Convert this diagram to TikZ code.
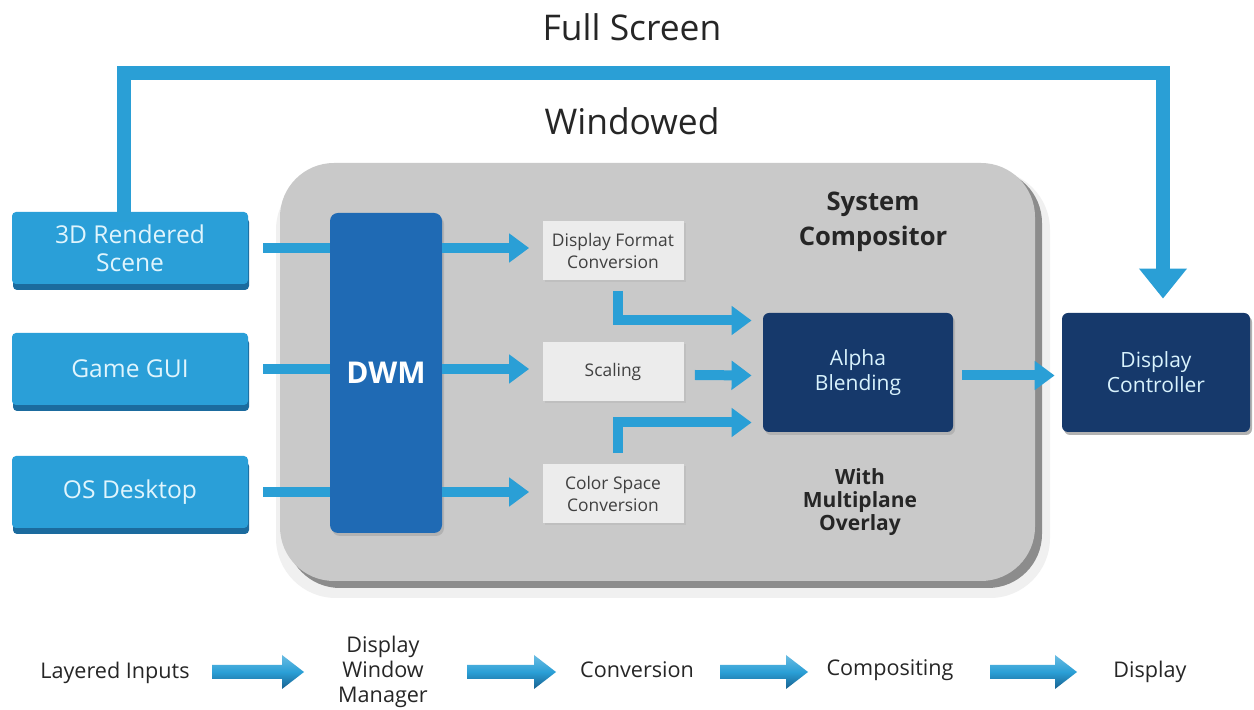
\documentclass[tikz,border=0pt]{standalone}
\usepackage{fontspec}
\setmainfont{Open Sans}
\usetikzlibrary{arrows.meta,shadows,calc}

\definecolor{inblue}{HTML}{2A9FD8}
\definecolor{inshade}{HTML}{1B6B9E}
\definecolor{flow}{HTML}{2A9FD6}
\definecolor{dwmblue}{HTML}{1F6AB4}
\definecolor{navy}{HTML}{16396B}
\definecolor{panel}{HTML}{C9C9C9}
\definecolor{panelrim}{HTML}{8C8C8C}
\definecolor{convbox}{HTML}{ECECEC}

\newcommand{\fatarrow}[2]{%
  \path[fatfill] ($(#1)+(0,-7)$) -- ($(#2)+(-22,-7)$) -- ($(#2)+(-22,-17)$) --
    (#2) -- ($(#2)+(-22,17)$) -- ($(#2)+(-22,7)$) -- ($(#1)+(0,7)$) -- cycle;}

\begin{document}
\begin{tikzpicture}[x=0.5pt,y=-0.5pt,
  inbox/.style={rectangle, rounded corners=2pt, fill=inblue, text=white!88!cyan,
    minimum width=118pt, minimum height=36pt, align=center,
    font=\fontsize{12.3}{14}\selectfont,
    general shadow={fill=inshade, shadow yshift=-3pt, shadow xshift=0.5pt}},
  convstyle/.style={rectangle, fill=convbox, text=black!75, minimum width=70.5pt,
    minimum height=29.5pt, align=center, font=\fontsize{8.7}{11}\selectfont,
    general shadow={fill=black!25, shadow yshift=-1pt, shadow xshift=1pt}},
  darkbox/.style={rectangle, rounded corners=3pt, fill=navy, text=white!85!cyan,
    minimum width=95pt, minimum height=59.5pt, align=center,
    font=\fontsize{10.5}{12.5}\selectfont,
    general shadow={fill=black!30, shadow yshift=-1.5pt, shadow xshift=1pt}},
  flowline/.style={draw=flow, line width=5pt, line join=miter},
  flowarrow/.style={flowline, -{Triangle[length=10pt,width=14pt]}},
  heading/.style={text=black!85, font=\fontsize{17.7}{20}\selectfont},
  boldlabel/.style={text=black!85, align=center, font=\bfseries\fontsize{12.8}{17.5}\selectfont},
  steplabel/.style={text=black!85, align=center, font=\fontsize{10.8}{12.5}\selectfont},
  fatfill/.style={top color=flow!70!white, bottom color=inshade!90!black, middle color=flow}
]
\useasboundingbox (0,0) rectangle (1254,710);
\fill[white] (0,0) rectangle (1254,710);

% titles of the two paths
\node[heading] (full) at (632,27) {Full Screen};
\node[heading] (windowed) at (632,121) {Windowed};

% compositor panel with its darker rim
\fill[black!6, rounded corners=30pt] (276,170) rectangle (1050,598);
\fill[panelrim, rounded corners=27pt] (286,169) rectangle (1042,588);
\fill[panel, rounded corners=27pt] (280,163) rectangle (1035,581);
\node[boldlabel] (sysc) at (873,222) {System\\Compositor};
\node[boldlabel, font=\bfseries\fontsize{10.5}{11.5}\selectfont] (mpo) at (860,502) {With\\Multiplane\\Overlay};

% layered inputs
\node[inbox] (r3d) at (130,248) {3D Rendered\\Scene};
\node[inbox] (gui) at (130,369) {Game GUI};
\node[inbox] (osd) at (130,492) {OS Desktop};

% stages
\node[convstyle] (dfc) at (613,251) {Display Format\\Conversion};
\node[convstyle] (scl) at (613,372) {Scaling};
\node[convstyle] (csc) at (613,494) {Color Space\\Conversion};
\node[darkbox] (alpha) at (858,372.5) {Alpha\\Blending};
\node[darkbox, minimum width=94pt] (dc) at (1156,372.5) {Display\\Controller};

% inputs run into the window manager
\coordinate (dwmc) at (386,373);
\draw[flowline] ([xshift=7.5pt]r3d.east) -- (r3d.east -| dwmc);
\draw[flowline] ([xshift=7.5pt]gui.east) -- (gui.east -| dwmc);
\draw[flowline] ([xshift=7.5pt]osd.east) -- (osd.east -| dwmc);

\node[rectangle, rounded corners=4pt, fill=dwmblue, text=white, minimum width=56pt,
  minimum height=160pt, font=\bfseries\fontsize{15}{17}\selectfont,
  general shadow={fill=black!30, shadow yshift=-1.5pt, shadow xshift=1pt}] (dwm) at (dwmc) {DWM};

% window manager to conversion stages
\draw[flowarrow, shorten >=6.5pt] (dwm.east |- r3d.east) -- (dfc.west |- r3d.east);
\draw[flowarrow, shorten >=6.5pt] (dwm.east |- gui.east) -- (scl.west |- gui.east);
\draw[flowarrow, shorten >=6.5pt] (dwm.east |- osd.east) -- (csc.west |- osd.east);

% conversion stages into blending
\draw[flowarrow] ([xshift=2.5pt,yshift=-5pt]dfc.south) |- ([xshift=-5.5pt,yshift=26pt]alpha.west);
\draw[flowarrow] ([xshift=5.5pt,yshift=-1.5pt]scl.east) -- ([xshift=-5.5pt,yshift=-1.5pt]alpha.west);
\draw[flowarrow] ([xshift=2.5pt,yshift=5.5pt]csc.north) |- ([xshift=-5.5pt,yshift=-25pt]alpha.west);
\draw[flowarrow] ([xshift=4.5pt,yshift=-1.5pt]alpha.east) -- ([xshift=-3.5pt,yshift=-1.5pt]dc.west);

% full screen bypass
\draw[draw=flow, line width=7pt, line join=miter, -{Triangle[length=15pt,width=23pt]}]
  ([xshift=-3pt,yshift=-5pt]r3d.north) |- (1163,73) -- ([yshift=7pt]dc.north -| 1163,0);

% pipeline summary
\node[steplabel] (s1) at (115,673) {Layered Inputs};
\node[steplabel] (s2) at (383,672) {Display\\Window\\Manager};
\node[steplabel] (s3) at (637,670) {Conversion};
\node[steplabel] (s4) at (890,670) {Compositing};
\node[steplabel] (s5) at (1150,672) {Display};
\coordinate (a1s) at (212,672); \coordinate (a1e) at (304,672);
\coordinate (a2s) at (467,672); \coordinate (a2e) at (556,672);
\coordinate (a3s) at (720,672); \coordinate (a3e) at (808,672);
\coordinate (a4s) at (990,672); \coordinate (a4e) at (1077,672);
\fatarrow{a1s}{a1e}
\fatarrow{a2s}{a2e}
\fatarrow{a3s}{a3e}
\fatarrow{a4s}{a4e}
\end{tikzpicture}
\end{document}
